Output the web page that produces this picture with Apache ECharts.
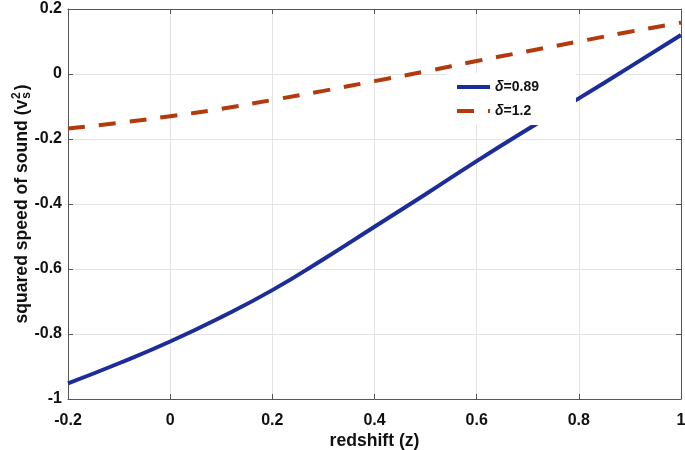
<!DOCTYPE html>
<html><head><meta charset="utf-8">
<script src="https://cdn.jsdelivr.net/npm/echarts@6/dist/echarts.min.js"></script>
<style>html,body{margin:0;padding:0;background:#fff}#c{width:685px;height:450px}</style>
</head><body><div id="c"></div>
<script>
const zValues = [-0.2, -0.1, 0, 0.1, 0.2, 0.3, 0.4, 0.5, 0.6, 0.7, 0.8, 0.9, 1.0];
const delta089 = [-0.952, -0.89, -0.823, -0.748, -0.665, -0.57, -0.47, -0.37, -0.268, -0.17, -0.075, 0.022, 0.12];
const delta12 = [-0.168, -0.15, -0.13, -0.107, -0.08, -0.052, -0.022, 0.008, 0.04, 0.07, 0.10, 0.13, 0.158];
const seriesNames = ['δ=0.89', 'δ=1.2'];
const xTicks = [-0.2, 0, 0.2, 0.4, 0.6, 0.8, 1];
const yTicks = [-1, -0.8, -0.6, -0.4, -0.2, 0, 0.2];

const FONT = 'Liberation Sans, Arial, sans-serif';
const axisCol = '#555555';
const pairs = (ys) => zValues.map((z, i) => [z, ys[i]]);

const chart = echarts.init(document.getElementById('c'), null, {renderer: 'canvas'});
const baseX = {
  type: 'value', min: xTicks[0], max: xTicks[xTicks.length - 1], interval: 0.2,
  axisLine: {show: true, onZero: false, lineStyle: {color: axisCol, width: 1}},
  axisTick: {show: true, inside: true, length: 5, lineStyle: {color: axisCol}},
  splitLine: {show: false}
};
const baseY = {
  type: 'value', min: yTicks[0], max: yTicks[yTicks.length - 1], interval: 0.2,
  axisLine: {show: true, onZero: false, lineStyle: {color: axisCol, width: 1}},
  axisTick: {show: true, inside: true, length: 5, lineStyle: {color: axisCol}},
  splitLine: {show: false}
};
const fmt = v => String(Math.round(v * 10) / 10);
chart.setOption({
  animation: false,
  backgroundColor: '#fff',
  grid: {left: 68, right: 4, top: 9, bottom: 51, containLabel: false, outerBoundsMode: 'none'},
  xAxis: [
    Object.assign({}, baseX, {
      position: 'bottom',
      splitLine: {show: true, lineStyle: {color: '#e3e3e3', width: 1}},
      axisLabel: {color: '#111', fontFamily: FONT, fontWeight: 'bold', fontSize: 16, margin: 14, formatter: fmt},
      name: 'redshift (z)', nameLocation: 'middle', nameGap: 33, nameMoveOverlap: false,
      nameTextStyle: {color: '#111', fontFamily: FONT, fontWeight: 'bold', fontSize: 17.6}
    }),
    Object.assign({}, baseX, {position: 'top', axisLabel: {show: false}})
  ],
  yAxis: [
    Object.assign({}, baseY, {
      position: 'left',
      splitLine: {show: true, lineStyle: {color: '#e3e3e3', width: 1}},
      axisLabel: {color: '#111', fontFamily: FONT, fontWeight: 'bold', fontSize: 16, margin: 6, formatter: fmt},
      name: 'squared speed of sound (v{sub|s}{sup|2}{p|)}', nameLocation: 'middle', nameGap: 35, nameMoveOverlap: false,
      nameTextStyle: {
        color: '#111', fontFamily: FONT, fontWeight: 'bold', fontSize: 17.6,
        rich: {
          sub: {fontFamily: FONT, fontWeight: 'bold', fontSize: 12, color: '#111', verticalAlign: 'bottom', padding: [10, 0, 0, 1]},
          sup: {fontFamily: FONT, fontWeight: 'bold', fontSize: 12, color: '#111', verticalAlign: 'top', padding: [0, 2, 10, -7]},
          p: {fontFamily: FONT, fontWeight: 'bold', fontSize: 17.6, color: '#111'}
        }
      }
    }),
    Object.assign({}, baseY, {position: 'right', axisLabel: {show: false}})
  ],
  legend: {
    show: true, orient: 'vertical', left: 447, top: 73,
    backgroundColor: '#fff', borderWidth: 0,
    padding: [7, 37, 7, 8], itemWidth: 33, itemHeight: 14, itemGap: 10,
    itemStyle: {opacity: 0},
    lineStyle: {width: 4},
    data: seriesNames,
    formatter: name => '{i|δ}{b|' + name.slice(1) + '}',
    textStyle: {
      color: '#111', fontFamily: FONT, fontSize: 14, fontWeight: 'bold',
      rich: {
        i: {fontFamily: FONT, fontStyle: 'italic', fontSize: 14, color: '#111'},
        b: {fontFamily: FONT, fontWeight: 'bold', fontSize: 14, color: '#111'}
      }
    }
  },
  series: [
    {
      name: seriesNames[0], type: 'line', xAxisIndex: 0, yAxisIndex: 0,
      data: pairs(delta089), smooth: true, symbol: 'none',
      lineStyle: {color: '#1c2d99', width: 4},
      itemStyle: {color: '#1c2d99'}, z: 2
    },
    {
      name: seriesNames[1], type: 'line', xAxisIndex: 0, yAxisIndex: 0,
      data: pairs(delta12), smooth: true, symbol: 'none',
      lineStyle: {color: '#b23a0c', width: 4, type: [17, 14], cap: 'butt'},
      itemStyle: {color: '#b23a0c'}, z: 2
    }
  ]
});
</script></body></html>
